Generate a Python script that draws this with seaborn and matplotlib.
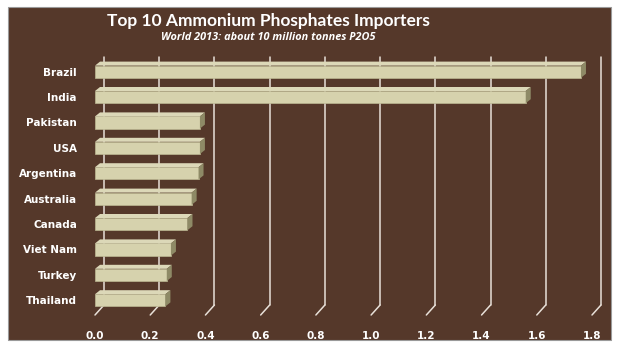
import matplotlib
matplotlib.use("Agg")
import matplotlib.pyplot as plt
from matplotlib.patches import Polygon, Rectangle
from matplotlib.transforms import IdentityTransform
import seaborn as sns
import pandas as pd

countries = ["Brazil", "India", "Pakistan", "USA", "Argentina",
             "Australia", "Canada", "Viet Nam", "Turkey", "Thailand"]
imports_mt = [1.76, 1.56, 0.38, 0.38, 0.375, 0.35, 0.335, 0.275, 0.26, 0.255]
x_ticks = [0.0, 0.2, 0.4, 0.6, 0.8, 1.0, 1.2, 1.4, 1.6, 1.8]

title = "Top 10 Ammonium Phosphates Importers"
subtitle = "World 2013: about 10 million tonnes P2O5"

sns.set_theme(style="white")
plt.rcParams["font.family"] = ["DejaVu Sans"]

W, H = 619, 347
fig = plt.figure(figsize=(W / 100, H / 100), dpi=100)
fig.patch.set_facecolor("white")

# brown panel behind the chart
panel = Rectangle((8 / W, 7 / H), (611 - 8) / W, (340 - 7) / H,
                  transform=fig.transFigure, facecolor="#55382a",
                  edgecolor="#9a9a9a", linewidth=0.8, zorder=-5)
fig.patches.append(panel)

ax = fig.add_axes([95 / W, 1 - 313 / H, (592 - 95) / W, (313 - 59) / H])
ax.set_facecolor("none")
ax.set_zorder(2)

df = pd.DataFrame({"country": countries, "value": imports_mt})
sns.barplot(data=df, x="value", y="country", orient="h", ax=ax,
            color="#d6d2ad", width=0.48, edgecolor="#bdb893",
            linewidth=0.5, saturation=1, zorder=3)

ax.set_xlim(0, 1.8)
ax.set_ylim(9.5, -0.5)
ax.set_xticks(x_ticks)
ax.set_xticklabels([f"{t:.1f}" for t in x_ticks])
ax.set_xlabel("")
ax.set_ylabel("")
for s in ax.spines.values():
    s.set_visible(False)
ax.tick_params(axis="both", length=0, colors="white", labelsize=7.5)
ax.tick_params(axis="x", pad=13)
ax.tick_params(axis="y", pad=13)
for lbl in ax.get_xticklabels() + ax.get_yticklabels():
    lbl.set_fontweight("bold")
    lbl.set_color("white")

fig.text(268 / W, 1 - 21 / H, title, ha="center", va="center",
         color="white", fontsize=12.5, fontweight="bold", family="Lato")
fig.text(268 / W, 1 - 38 / H, subtitle, ha="center", va="center",
         color="white", fontsize=7.8, fontweight="bold", style="italic",
         family="Open Sans")

# back-wall gridlines and floor ticks, drawn in pixels with a depth offset
fig.canvas.draw()
px = IdentityTransform()
dx, dy = 9, 8
T = ax.transData
y_top_px = T.transform((0, -0.5))[1] + 2
y_bot_px = T.transform((0, 9.5))[1]
for t in x_ticks:
    x0 = T.transform((t, 0))[0]
    for xs, ys in (([x0 + dx, x0 + dx], [y_bot_px + dy, y_top_px]),
                   ([x0, x0 + dx], [y_bot_px - 2, y_bot_px + dy])):
        ln = plt.Line2D(xs, ys, transform=px, color="#e8e0d8", lw=1.1,
                        zorder=1, clip_on=False)
        ax.add_artist(ln)

# depth faces on each bar
bdx, bdy = 5, 4
for p in list(ax.patches):
    x0, y0 = p.get_x(), p.get_y()
    w, h = p.get_width(), p.get_height()
    (ax0, ay0) = T.transform((x0, y0 + h))   # lower-left corner, pixels
    (ax1, ay1) = T.transform((x0 + w, y0))   # upper-right corner, pixels
    top = Polygon([(ax0, ay1), (ax1, ay1), (ax1 + bdx, ay1 + bdy), (ax0 + bdx, ay1 + bdy)],
                  closed=True, transform=px, facecolor="#dcd8b8",
                  edgecolor="none", zorder=4, clip_on=False)
    side = Polygon([(ax1, ay0), (ax1, ay1), (ax1 + bdx, ay1 + bdy), (ax1 + bdx, ay0 + bdy)],
                   closed=True, transform=px, facecolor="#8e8a66",
                   edgecolor="none", zorder=4, clip_on=False)
    ax.add_artist(top)
    ax.add_artist(side)

fig.savefig("out.png", dpi=100, facecolor=fig.get_facecolor())
